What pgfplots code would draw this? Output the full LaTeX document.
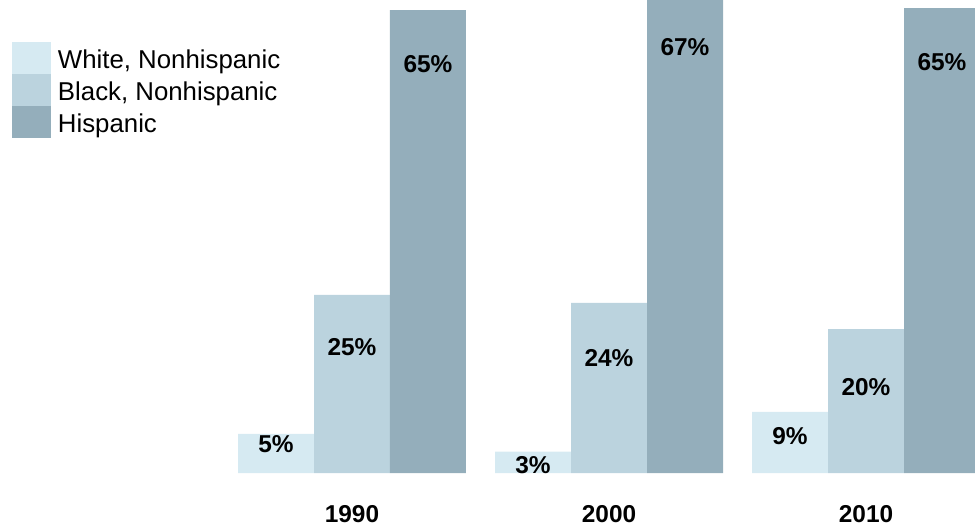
\documentclass[border=0pt]{standalone}
\usepackage{pgfplots}
\pgfplotsset{compat=1.18}
\usepackage{fontspec}
\setmainfont{Liberation Sans}
\definecolor{cW}{RGB}{214,234,242}
\definecolor{cB}{RGB}{187,211,222}
\definecolor{cH}{RGB}{148,174,187}
\begin{document}
\begin{tikzpicture}
\begin{axis}[
  scale only axis, width=487.5pt, height=263.5pt,
  xmin=-1.3696, xmax=2.4241, ymin=-7.58, ymax=66.43,
  hide axis, clip=true,
  legend cell align=left,
  legend image code/.code={\fill[#1] (0pt,-6.5pt) rectangle (19.5pt,9.5pt);},
  legend style={at={(axis cs:-1.323,60.53)}, anchor=north west, draw=none, fill=none,
    inner sep=0pt, outer sep=0pt, row sep=0pt, column sep=3.5pt,
    font=\fontsize{12.9}{14}\selectfont,
    nodes={inner sep=0pt, outer sep=0pt}},
]
\addplot[ybar, bar width=0.2957, bar shift=0pt, fill=cW, draw=none] coordinates {(-0.2957,5.5) (0.7043,3.0) (1.7043,8.6)};
\addlegendentry{White, Nonhispanic}
\addplot[ybar, bar width=0.2957, bar shift=0pt, fill=cB, draw=none] coordinates {(0,25.0) (1,23.9) (2,20.2)};
\addlegendentry{Black, Nonhispanic}
\addplot[ybar, bar width=0.2957, bar shift=0pt, fill=cH, draw=none] coordinates {(0.2957,65.0) (1.2957,67.0) (2.2957,65.3)};
\addlegendentry{Hispanic}
% value labels
\addplot[draw=none, mark=none, forget plot, nodes near coords, point meta=explicit symbolic,
  nodes near coords style={anchor=center, font=\fontsize{12.2}{14}\selectfont\bfseries, text=black}]
  coordinates {
  (-0.2957,4.07) [5\%]
  (0,17.7) [25\%]
  (0.2957,57.4) [65\%]
  (0.7043,1.12) [3\%]
  (1,16.15) [24\%]
  (1.2957,59.8) [67\%]
  (1.7043,5.2) [9\%]
  (2,12.08) [20\%]
  (2.2957,57.7) [65\%]
  };
% year labels
\addplot[draw=none, mark=none, forget plot, nodes near coords, point meta=explicit symbolic,
  nodes near coords style={anchor=center, font=\fontsize{12.2}{14}\selectfont\bfseries, text=black}]
  coordinates {
  (0,-5.76) [1990]
  (1,-5.76) [2000]
  (2,-5.76) [2010]
  };
\path (rel axis cs:0,0) rectangle (rel axis cs:1,1);
\end{axis}
\end{tikzpicture}
\end{document}
